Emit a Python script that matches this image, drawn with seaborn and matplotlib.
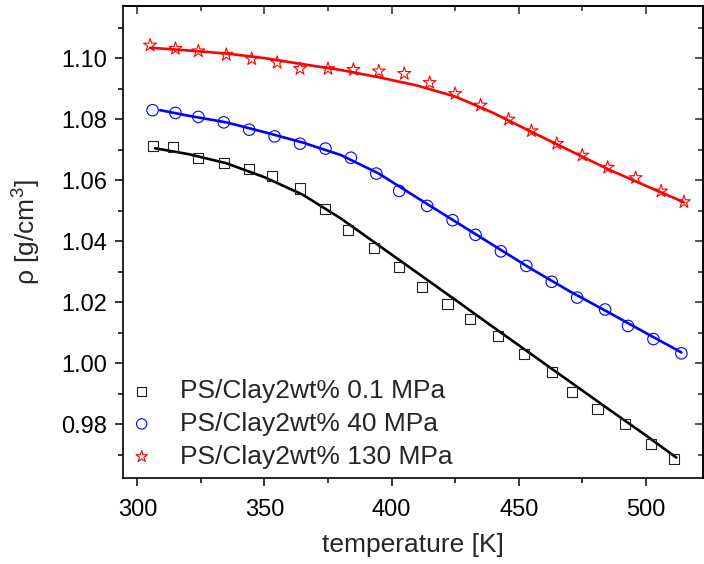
import numpy as np
import pandas as pd
import seaborn as sns
import matplotlib.pyplot as plt
from matplotlib.ticker import MultipleLocator

T_01 = [306, 314, 324, 334, 344, 353, 364, 374, 383, 393, 403,
        412, 422, 431, 442, 452, 463, 471, 481, 492, 502, 511]
rho_01 = [1.0712, 1.0709, 1.0674, 1.0658, 1.0637, 1.0613, 1.0573, 1.0507, 1.0436, 1.0378, 1.0316,
          1.0250, 1.0193, 1.0144, 1.0089, 1.0030, 0.9972, 0.9906, 0.9848, 0.9800, 0.9733, 0.9684]

T_40 = [306, 315, 324, 334, 344, 354, 364, 374, 384, 394, 403,
        414, 424, 433, 443, 453, 463, 473, 484, 493, 503, 514]
rho_40 = [1.0830, 1.0821, 1.0808, 1.0790, 1.0766, 1.0744, 1.0720, 1.0704, 1.0674, 1.0622, 1.0565,
          1.0516, 1.0469, 1.0421, 1.0367, 1.0319, 1.0267, 1.0215, 1.0176, 1.0122, 1.0079, 1.0032]

T_130 = [305, 315, 324, 335, 345, 355, 364, 375, 385, 395, 405,
         415, 425, 435, 446, 455, 465, 475, 485, 496, 506, 515]
rho_130 = [1.1043, 1.1032, 1.1024, 1.1012, 1.0998, 1.0986, 1.0966, 1.0966, 1.0963, 1.0958, 1.0950,
           1.0920, 1.0884, 1.0846, 1.0800, 1.0762, 1.0720, 1.0682, 1.0642, 1.0608, 1.0564, 1.0529]

# fit curves
fitT_01 = [307, 320, 335, 350, 365, 380, 395, 410, 425, 440, 455, 470, 485, 500, 512]
fit_01 = [1.0705, 1.0686, 1.0656, 1.0610, 1.0553, 1.0475, 1.0386, 1.0297, 1.0208, 1.0118,
          1.0029, 0.9940, 0.9851, 0.9763, 0.9690]

fitT_40 = [309, 320, 335, 350, 365, 380, 395, 410, 425, 440, 455, 470, 485, 500, 514]
fit_40 = [1.0830, 1.0812, 1.0790, 1.0758, 1.0724, 1.0683, 1.0622, 1.0543, 1.0465, 1.0387,
          1.0309, 1.0236, 1.0168, 1.0099, 1.0035]

fitT_130 = [305, 320, 335, 350, 365, 380, 395, 410, 425, 440, 455, 470, 485, 500, 515]
fit_130 = [1.1035, 1.1026, 1.1016, 1.1001, 1.0981, 1.0962, 1.0938, 1.0911, 1.0875, 1.0821,
           1.0759, 1.0698, 1.0637, 1.0582, 1.0528]

labels = ["PS/Clay2wt% 0.1 MPa", "PS/Clay2wt% 40 MPa", "PS/Clay2wt% 130 MPa"]

sns.set_theme(style="ticks")
plt.rcParams["font.family"] = ["Liberation Sans", "DejaVu Sans"]
plt.rcParams["mathtext.fontset"] = "custom"
plt.rcParams["mathtext.rm"] = "Liberation Sans"
plt.rcParams["mathtext.it"] = "Liberation Sans:italic"

fig = plt.figure(figsize=(7.04, 5.64), dpi=100)
ax = fig.add_axes([0.1743, 0.1525, 0.8243, 0.8369])

series = [
    (T_01, rho_01, fitT_01, fit_01, "s", "#222222", 52, "black"),
    (T_40, rho_40, fitT_40, fit_40, "o", "#0000FF", 68, "#0000FF"),
    (T_130, rho_130, fitT_130, fit_130, "*", "#FF0000", 95, "#FF0000"),
]

handles = []
for (T, rho, fT, fr, mk, ec, size, lc), lab in zip(series, labels):
    sns.lineplot(x=fT, y=fr, color=lc, linewidth=1.9, ax=ax, legend=False)
    sns.scatterplot(x=T, y=rho, marker=mk, s=size, facecolor="none",
                    edgecolor=ec, linewidth=0.8, ax=ax, zorder=3)
    handles.append(ax.collections[-1])

ax.set_xlim(294.25, 522.5)
ax.set_ylim(0.9623, 1.1172)
ax.xaxis.set_major_locator(MultipleLocator(50))
ax.xaxis.set_minor_locator(MultipleLocator(25))
ax.yaxis.set_major_locator(MultipleLocator(0.02))
ax.yaxis.set_minor_locator(MultipleLocator(0.01))
ax.yaxis.set_major_formatter(plt.FormatStrFormatter("%.2f"))

ax.tick_params(which="both", direction="out", width=1.1, colors="black",
               labelsize=17)
ax.tick_params(axis="x", pad=9)
ax.tick_params(axis="y", pad=5)
ax.tick_params(which="major", length=6)
ax.tick_params(which="minor", length=3.5)
for sp in ax.spines.values():
    sp.set_linewidth(1.2)
    sp.set_color("black")
    sp.set_visible(True)

# inward ticks on top and right, like Origin
top = ax.secondary_xaxis("top")
top.xaxis.set_major_locator(MultipleLocator(50))
top.xaxis.set_minor_locator(MultipleLocator(25))
top.tick_params(which="both", direction="in", width=1.1, labeltop=False)
top.tick_params(which="major", length=6)
top.tick_params(which="minor", length=3.5)
right = ax.secondary_yaxis("right")
right.yaxis.set_major_locator(MultipleLocator(0.02))
right.yaxis.set_minor_locator(MultipleLocator(0.01))
right.tick_params(which="both", direction="in", width=1.1, labelright=False)
right.tick_params(which="major", length=6)
right.tick_params(which="minor", length=3.5)

ax.set_xlabel("temperature [K]", fontsize=19)
ax.set_ylabel("ρ [g/cm$^3$]", fontsize=19)
ax.xaxis.set_label_coords(0.5, -0.116)
ax.yaxis.set_label_coords(-0.137, 0.521)

ax.legend(handles, labels, loc="lower left", bbox_to_anchor=(0.01, 0.02),
          frameon=False, fontsize=19, handlelength=1.0, handletextpad=0.95,
          labelspacing=0.33, borderaxespad=0, borderpad=0, markerscale=0.9)

fig.savefig("out.png", dpi=100)
